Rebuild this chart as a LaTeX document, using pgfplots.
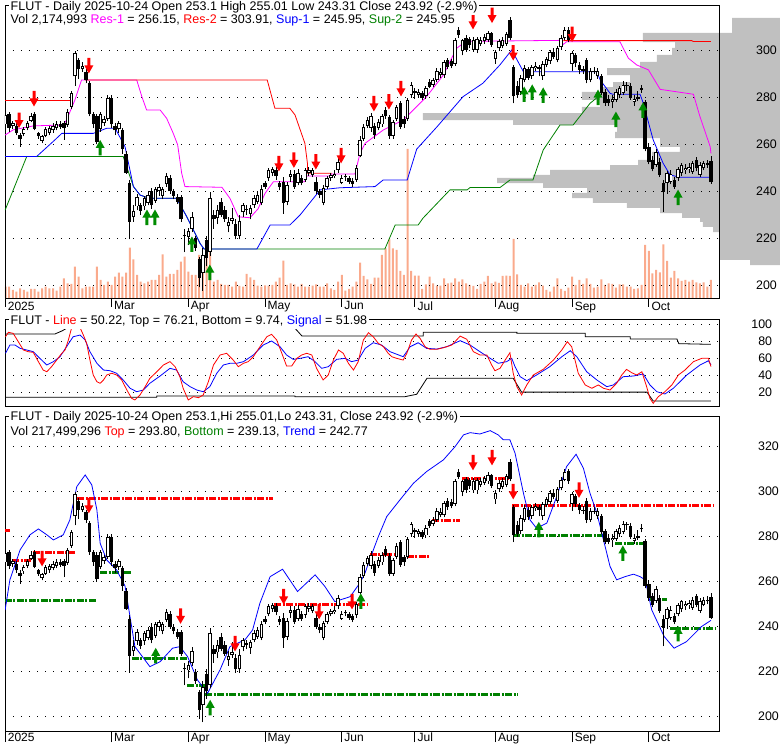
\documentclass[border=0pt]{standalone}
\usepackage{fontspec}
\setmainfont{Liberation Sans}
\usepackage{pgfplots}
\usepackage{pgfplotstable}
\pgfplotsset{compat=1.18}
\definecolor{volc}{RGB}{250,170,140}
\definecolor{profc}{RGB}{192,192,192}
\definecolor{arrgreen}{RGB}{0,140,0}
\definecolor{linegreen}{RGB}{0,128,0}
\definecolor{mag}{RGB}{255,0,255}
\definecolor{rd}{RGB}{255,0,0}
\definecolor{bl}{RGB}{0,0,255}
\pgfdeclareplotmark{dnarrow}{%
 \pgfpathmoveto{\pgfqpoint{-1.5pt}{7.5pt}}\pgfpathlineto{\pgfqpoint{1.5pt}{7.5pt}}%
 \pgfpathlineto{\pgfqpoint{1.5pt}{0pt}}\pgfpathlineto{\pgfqpoint{4.5pt}{0pt}}%
 \pgfpathlineto{\pgfqpoint{0pt}{-8pt}}\pgfpathlineto{\pgfqpoint{-4.5pt}{0pt}}%
 \pgfpathlineto{\pgfqpoint{-1.5pt}{0pt}}\pgfpathclose\pgfusepathqfill}
\pgfdeclareplotmark{uparrow}{%
 \pgfpathmoveto{\pgfqpoint{-1.5pt}{-7.5pt}}\pgfpathlineto{\pgfqpoint{1.5pt}{-7.5pt}}%
 \pgfpathlineto{\pgfqpoint{1.5pt}{0pt}}\pgfpathlineto{\pgfqpoint{4.5pt}{0pt}}%
 \pgfpathlineto{\pgfqpoint{0pt}{8pt}}\pgfpathlineto{\pgfqpoint{-4.5pt}{0pt}}%
 \pgfpathlineto{\pgfqpoint{-1.5pt}{0pt}}\pgfpathclose\pgfusepathqfill}

\pgfplotstableread{
n o h l c v
0 268.5 273.5 267 272.5 11.3
1 273 274 265.5 267 11.3
2 268 270 266.5 269 8
3 268 269 264 265 6.3
4 264 265 259 262.5 9.7
5 264.5 267.5 263.5 266.5 8
6 267 270 266 269 6.3
7 270 273.5 269.5 272 9
8 273 274 266 266.5 9
9 265 265.5 262.5 263.5 6.3
10 261.5 264 260.5 263.5 9.7
11 263.5 267.5 263 266.5 11.3
12 265 268 264 267 9.7
13 266 269 265 268 9.7
14 267 270 266 268.5 7.3
15 268.5 270 266.5 267.5 11.3
16 269 270 262 267 19.7
17 268.3 275 267.5 274 14.7
18 276 283 275 282 14
19 289 300 285 299 31.3
20 296 297 288 292 21.3
21 292 295 291 293.5 9.7
22 291 292 286 287.5 11.3
23 286 287 272 273 11.3
24 273 274 267 268.5 11.3
25 272 273 260 261 31.3
26 266.5 274 265.5 273 18
27 269 272 268 271 13
28 271 281 270 280 16.3
29 280 281 267 268.6 13
30 268 269 264 266 21.3
31 266.5 270 265 269 25.3
32 266 267 256 258 21.3
33 256 257 247.5 248 25.3
34 243.5 245 219.5 227 50.3
35 229 234 227 231.5 38.7
36 233.5 239 232 237.5 23
37 234 235 230 231.5 16.3
38 233.5 238 232 237 14.7
39 235 240 234 238.5 16.3
40 240 241.5 232.5 234 18
41 236 242 235 241 18
42 240 243 238 242 23
43 238 242 236.5 241 43.7
44 243 248 242 246.5 21.3
45 245.5 247 239 240 24
46 240 241 236.5 238 24
47 237.5 239 234.5 235.5 28
48 237.5 238.5 227 228 36.3
49 221.5 224 214 221 41.3
50 220.5 224.5 217 223 26.3
51 224 231 222.5 229 23
52 220 221 214.5 216 23
53 211 212 199 203 43
54 205 216 197.5 213 43
55 219 221 208 211.5 43
56 214 239.5 212.5 237 46.3
57 230 232 224 228 16.3
58 228.5 234 226 232 18
59 235.5 237 229 230 14
60 232 233.5 227 228 13
61 225 229 222.5 227 13
62 227.5 233 226 228.5 11.3
63 226 228 219.5 221 16.3
64 221 230 219.5 227.5 12
65 231 235 229 234 11.3
66 232 234 230 232.5 24
67 230.5 234 228 233 20.7
68 234 238.5 233 237 18
69 235.5 240 234.5 238.5 12.3
70 235 242.5 234 241 11.3
71 243.5 244.5 241 242 12.7
72 245.5 250 244.5 249 12.3
73 248 250.5 246.5 249.5 13
74 249 250.5 245 246.5 16.3
75 243.5 244.5 240.5 242 20.3
76 244 246 230.5 235 37.3
77 235.5 244 234 242.5 13
78 246 249 244 247.5 14.7
79 247.5 249 241 242 13.7
80 243.5 249.5 242.5 248 11.3
81 245.5 247 242.5 243.5 14
82 245 250 244 249 11.3
83 248 250.5 246.5 249 11.3
84 247 250 246 249 12.3
85 244 246 239 240 13.7
86 240 241 237 238.5 11.3
87 235 242.5 234 241.5 11.3
88 242 246.5 241 245.5 14.7
89 245.5 248 244.5 247 9.7
90 246.5 249 245.5 247.5 8
91 249 254 248 252.5 16.3
92 243.5 247 243 245.5 23
93 246 247.5 244.5 246 7.3
94 245.5 246.5 243 244 9
95 244.5 245.5 242 243 11.3
96 245 251 244 250 16.3
97 255 263.5 254.5 262 35.3
98 262.5 268.5 261.5 267.5 22
99 268 271.5 267 270.5 18.7
100 267 273.5 265.5 272 14
101 268 269 262.5 264 20.3
102 267 271 266 269.5 20.3
103 268.5 273 267.5 272 43
104 274.5 276 271 272 49.7
105 271.5 272.5 262.5 263.5 58.7
106 263.5 270.5 262.5 269.5 49.7
107 271 277 270 276 48
108 277.5 278.5 266.5 267.5 27
109 271 272 267 268.5 23
110 271 280 270 279 149
111 281 286.5 280 285.5 27
112 283 284 279.5 282 22.3
113 281 283.5 280 282.5 22.3
114 282 283 279 280 9
115 280.5 285 279.5 284 13.7
116 286.8 288 284 284.6 21.3
117 285.5 288.5 284.5 287.5 14.7
118 287.5 292.5 286.5 291.5 12.3
119 289.5 292.5 288.5 291 12.3
120 289.5 296 288.5 295 19.7
121 296 297 292 293.2 14.7
122 295.5 296.5 292.5 293.5 15.3
123 294.5 305.5 293.5 304.5 19.7
124 308.8 310 305.5 306.7 16.3
125 300 305 298 304.5 18.7
126 305.5 306.5 299.5 300.5 14.7
127 305 306 301 302.5 13
128 300.5 306 299.5 304.5 12
129 300.5 306 299 305 9
130 303 306 302 304.5 14
131 304 307 303 306 16.3
132 304.5 308.5 303.5 307.4 22
133 307.5 308 301.5 302.5 14.7
134 296.5 300.5 294.5 299.5 16.3
135 301 305 300 304 15
136 302 306 301 304.5 22
137 303 308 302 307 22.3
138 313 314.5 304.5 305.5 22
139 293 294 277.5 280.5 59
140 285 287 280 281 23.7
141 282.5 289.5 281 288.3 13
142 287.5 294 286.5 292.5 11.3
143 292 293 287.5 288.5 14.7
144 289 294 288 293 11.3
145 292.5 295 291.5 293.5 13
146 293 294 289 292 15.7
147 289 295.5 287.5 294.5 12.3
148 294 297.5 293 296.5 8
149 295.5 300.5 294.5 299.5 6.3
150 299.5 301 296.5 297.5 11.3
151 296 302 295 301 19.7
152 301.5 306.5 300.5 305.3 9
153 305.3 310 304.5 308.8 7
154 309 310 303.5 304.5 10.3
155 294.5 300 291.5 299 21.3
156 298.2 299 293 294.6 13
157 294 295 290 291.8 18
158 292 293.5 290 291.5 14
159 296 297 286 287.5 19.7
160 287.5 292.5 286.5 291.5 14
161 291.5 293 290 291 10.3
162 289 292.5 288 291.5 11.3
163 289 290 281 282 18.7
164 282.5 283.5 276.5 277.5 13
165 279.5 281 276.5 277.8 14.7
166 278.3 281 275.5 279.5 14
167 279 283.5 278 282.5 10.3
168 281 285 280 284 13.7
169 282 287 281 285.5 13.7
170 285 286.5 283 285.3 11.3
171 284.8 286 279 279.7 11.3
172 278 281 276.5 279.5 9
173 279.5 283 278.5 280.2 9.7
174 283.2 285.5 282 283.9 13
175 278.2 279 257 258 53
176 259 260.5 251.5 252.5 47
177 253.4 255 248.5 249.5 24.7
178 251.2 258 250.5 256.8 28
179 252.6 254 246 247 25.7
180 243.5 245 231.3 239.5 53.7
181 243.4 248.5 239 247.7 37
182 244 249 243 247.5 20.3
183 244.8 246 241 242 27
184 245.5 250.5 244.5 249.4 19.7
185 247.7 252 246.5 251.2 17
186 249 251.5 247.5 250 18
187 249.5 252 248 250.5 16.3
188 248.4 253 247.5 251.9 18
189 253.4 254.5 248.5 249.8 15.7
190 247 252.5 246 251.2 14.7
191 249.8 253 249 251.9 15.7
192 251.2 253.5 250 251.9 11.3
193 253.1 255.01 243.31 243.92 18
}\ohlc

\pgfplotsset{
  nomk/.style={only marks, mark=*, mark size=0pt, mark options={draw=none, fill=none}, forget plot},
}
\newcommand{\candles}{%
\addplot[nomk, error bars/.cd, y dir=plus, y explicit, error mark=none,
  error bar style={draw=black, line width=0.8pt}]
  table[x=n, y=l, y error plus expr={\thisrow{h}-\thisrow{l}}] {\ohlc};
\addplot[nomk, error bars/.cd, y dir=plus, y explicit, error mark=none,
  error bar style={draw=black, line width=3.4pt}]
  table[x=n, y expr={min(\thisrow{o},\thisrow{c})}, y error plus expr={max(abs(\thisrow{c}-\thisrow{o}),0.5)}] {\ohlc};
\addplot[nomk, error bars/.cd, y dir=plus, y explicit, error mark=none,
  error bar style={draw=white, line width=1.5pt}]
  table[x=n, y expr={min(\thisrow{o},\thisrow{c})+0.42}, y error plus expr={(\thisrow{c}>\thisrow{o})*max(abs(\thisrow{c}-\thisrow{o})-0.84,0)}] {\ohlc};
}

\pgfplotsset{
  panel/.style={scale only axis, width=714pt, xmin=-0.137, xmax=195.2, anchor=south west,
    axis line style={line width=0.8pt},
    tick align=outside, ytick style={draw=none}, xtick style={black, line width=0.8pt},
    ymajorgrids, major grid style={black, line width=0.9pt, dash pattern=on 0.9pt off 7.1pt},
    yticklabel pos=right, ytick pos=right,
    yticklabel style={anchor=east, inner sep=0pt, xshift=49pt, font=\fontsize{12.4}{14}\selectfont},
    /pgf/number format/assume math mode=true,
    xticklabel style={anchor=north west, inner sep=0pt, xshift=2.5pt, font=\fontsize{12}{14}\selectfont},
  },
  hidden/.style={scale only axis, width=714pt, xmin=-0.137, xmax=195.2, anchor=south west, hide axis},
  reddash/.style={rd, line width=3pt, dash pattern=on 7pt off 1.5pt on 2pt off 1.5pt, forget plot},
  greendash/.style={linegreen, line width=3pt, dash pattern=on 7pt off 1.5pt on 2pt off 1.5pt, forget plot},
}

\begin{document}
\begin{tikzpicture}[x=1pt,y=1pt]
\path[use as bounding box] (0,0) rectangle (780,745);

% ---------------- volume profile (top panel) ----------------
\begin{axis}[hidden, height=293pt, at={(5pt,447pt)}, ymin=194.45, ymax=319.5, clip=false]
\addplot[fill=profc, draw=none] coordinates {
(211.9,314.0) (198.8,314.0) (198.8,307.6) (174.4,307.6) (174.4,303.7) (183.2,303.7) (183.2,301.2)
(182.4,301.2) (182.4,298.2) (178.2,298.2) (178.2,295.2) (173.6,295.2) (173.6,292.6) (164.6,292.6)
(164.6,289.6) (170.9,289.6) (170.9,286.6) (166.2,286.6) (166.2,284.5) (162.7,284.5) (162.7,282.4)
(157.7,282.4) (157.7,279.0) (162.7,279.0) (162.7,276.0) (157.7,276.0) (157.7,273.4) (114.2,273.4)
(114.2,270.4) (138.9,270.4) (138.9,268.3) (167.3,268.3) (167.3,265.3) (166.8,265.3) (166.8,262.7)
(179.1,262.7) (179.1,258.9) (184.5,258.9) (184.5,256.8) (176.9,256.8) (176.9,253.4) (173.1,253.4)
(173.1,251.2) (165.4,251.2) (165.4,249.1) (149.0,249.1) (149.0,247.0) (144.3,247.0) (144.3,245.7)
(134.5,245.7) (134.5,243.5) (147.1,243.5) (147.1,241.4) (159.1,241.4) (159.1,239.3) (155.0,239.3)
(155.0,237.1) (160.7,237.1) (160.7,235.0) (170.0,235.0) (170.0,232.9) (179.1,232.9) (179.1,230.7)
(185.1,230.7) (185.1,228.6) (190.0,228.6) (190.0,226.9) (190.8,226.9) (190.8,224.8) (193.6,224.8)
(193.6,222.6) (195.5,222.6) (195.5,210.7) (203.7,210.7) (203.7,208.5) (211.9,208.5)} -- cycle;
\end{axis}

% ---------------- volume bars ----------------
\begin{axis}[hidden, height=293pt, at={(5pt,447pt)}, ymin=0, ymax=293]
\addplot[ybar, bar width=2pt, fill=volc, draw=none] table[x=n, y=v] {\ohlc};
\end{axis}

% ---------------- top price panel ----------------
\begin{axis}[panel, height=293pt, at={(5pt,447pt)}, ymin=194.45, ymax=319.5,
  ytick={200,220,240,260,280,300}, yticklabels={200,220,240,260,280,300},
  xtick pos=bottom, major tick length=9pt, xticklabel style={yshift=5.5pt},
  xtick={-0.1,29,50,71,92,112,134,155,176}, xticklabels={2025,Mar,Apr,May,Jun,Jul,Aug,Sep,Oct}]
% Sup-2 green
\addplot[linegreen, line width=0.8pt] coordinates {(-0.1,232) (5.8,254.8) (32.2,254.8) (35.0,242) (36.8,238.4) (38.6,237.4) (39.0,237) (46.8,237) (49.6,229.1) (53.2,217.8) (54.3,215.4) (103.8,215.4) (106.6,225.6) (112.9,225.6) (114.2,228.5) (121.6,240.6) (126.3,240.6) (127.1,241.6) (135.3,241.6) (138.0,244.8) (144.3,244.8) (147.1,257.6) (151.7,268.3) (155.3,268.3) (159.9,277.5) (162.7,281.1)};
% Sup-1 blue
\addplot[bl, line width=0.8pt] coordinates {(-0.1,254.8) (8.5,254.8) (13.5,261.9) (15.4,264.7) (24.0,264.7) (27.7,266.9) (30.0,266.9) (32.7,259) (35.0,242) (36.8,238.4) (38.6,237.4) (39.0,237) (46.8,237) (49.6,229.1) (53.2,217.8) (54.3,215.4) (68.8,215.4) (72.4,225.6) (77.8,225.6) (80.6,229.9) (86.1,240.6) (91.5,241.5) (101.1,242) (103.3,244.8) (109.9,244.8) (112.5,258) (118.1,267.6) (125.2,280.4) (130.6,286.1) (135.3,294) (138.5,300.3) (141.7,291) (161.8,291) (162.7,287.5) (165.4,281.8) (166.2,281.4) (173.6,281.4) (174.4,278) (177.2,261.9) (179.9,252) (181.8,247) (184.5,245.95) (193,245.95)};
% Res-1 magenta
\addplot[mag, line width=0.8pt] coordinates {(-0.1,264.0) (2.1,266.2) (7.6,267.9) (15.8,268.3) (16.7,270.4) (19.0,279) (20.8,287.5) (35.9,287.5) (37.3,280.4) (38.6,274.7) (42.3,274.7) (44.1,271.1) (45.9,264.7) (47.1,259.8) (48.2,247.7) (49.1,242) (59.2,241.7) (61.4,237) (63.7,229.1) (66.9,228.7) (69.1,232.5) (71.0,239.1) (73.3,244.1) (81.9,244.1) (82.2,246.5) (88.8,246.5) (89.2,247.4) (95.6,247.4) (97.0,256.2) (98.4,260.5) (103.4,266.2) (108.8,270.4) (115.2,280.4) (119.8,289.6) (123.4,301) (125.3,303.2) (127.1,304) (151.7,304.4) (152.6,302.7) (153.5,303.8) (168.1,303.8) (170.4,296.8) (172.7,293.9) (175.9,291.8) (179.1,283.5) (188.2,281.4) (190.0,271.8) (192.8,259) (193,256.15)};
% Res-2 red
\addplot[rd, line width=0.8pt] coordinates {(-0.1,278.7) (17.6,278.7)};
\addplot[rd, line width=0.8pt] coordinates {(21.8,287.5) (71.6,287.5) (73.7,275.4) (77.8,275.4) (79.2,272.6) (81.9,260.5) (82.6,252) (82.6,247.7) (89.2,247.7)};
\addplot[rd, line width=0.8pt] coordinates {(152.6,304.3) (187.7,304.3) (188.2,303.91) (193,303.91)};
\candles
\addplot[only marks, mark=dnarrow, color=rd] coordinates {(3.7,270.4) (7.8,279.6) (22.8,293.7) (74.8,251.9) (78.9,253.4) (84.9,252.7) (91.8,255.3) (100.8,277.5) (104.9,278.3) (108.2,283.9) (127.9,312.5) (133.1,315.2) (138.9,299.2) (155,307.1)};
\addplot[only marks, mark=uparrow, color=arrgreen] coordinates {(25.9,258.5) (38.7,228.8) (40.9,228.8) (51,217.3) (55.9,205.3) (141.9,281.3) (144.1,282.2) (147.1,280.9) (162.1,280) (167,270.6) (174.4,274.5) (184,237.3)};
\end{axis}

% ---------------- oscillator panel ----------------
\begin{axis}[panel, height=87pt, at={(5pt,339pt)}, ymin=3.96, ymax=105.9,
  ytick={20,40,60,80,100}, yticklabels={20,40,60,80,100}, xtick=\empty]
\addplot[black, line width=0.8pt] coordinates {(-0.2,88.3) (13.5,88.3) (15.5,92) (17.5,97) (78.5,97) (79.2,95) (81.1,86) (114.3,86) (114.3,90.3) (139.9,90.3) (139.9,89.1) (158.6,89.1) (158.6,85.1) (170.9,85.1) (170.9,82.4) (183.7,82.4) (184.2,77) (193,76.21)};
\addplot[black, line width=0.8pt] coordinates {(-0.2,14.2) (41.4,14.2) (41.4,15.7) (79.2,15.7) (79.2,14.9) (109.3,14.9) (112.5,17.7) (115.3,36.4) (138.9,36.4) (141.2,20.2) (175.5,20.2) (177.2,9.74) (193,9.74)};
\addplot[bl, line width=0.8pt] coordinates {(0,65.7) (1.2,75.4) (2.6,75.4) (4.0,71.5) (5.8,69.6) (7.6,67.6) (9.4,59.8) (11.3,52) (13.1,55.9) (14.9,61.7) (16.7,73.4) (18.5,85.1) (20.4,87.1) (21.8,81.3) (23.1,67.6) (25.0,54) (26.8,46.1) (28.6,45.3) (30.4,42.3) (32.2,34.4) (34.1,24.7) (35.9,20.7) (37.7,22.7) (39.5,30.6) (42.3,39.1) (45.0,48.1) (46.8,46.1) (48.6,32.4) (50.5,26.6) (52.3,22.7) (54.1,20.7) (55.9,26.6) (57.8,42.3) (59.6,52) (61.4,54) (63.3,54) (65.1,55.9) (67.8,63.7) (70.5,75.4) (72.8,80.1) (75.1,73.4) (76.9,63.7) (78.7,58.6) (80.6,59.8) (82.8,61.7) (84.7,55.9) (86.5,48.1) (88.3,50) (90.6,58.6) (92.9,59.8) (94.7,55.9) (96.5,57.8) (98.4,71.5) (100.6,78.1) (102.9,75.4) (105.2,67.6) (108.8,61.7) (110.7,73.4) (112.9,78.1) (115.2,71.5) (118.0,70.7) (120.7,73.4) (124.4,80.5) (127.1,75.4) (129.8,67.6) (132.6,59.8) (134.8,54) (137.1,55.9) (138.5,59.8) (139.4,50) (140.8,38.3) (142.6,33.6) (145.3,40.3) (148.9,50) (152.2,61.7) (154.5,68.7) (156.3,61.7) (159.0,44.1) (161.8,34.4) (164.5,26.6) (166.3,28.6) (169.0,38.3) (171.8,39.1) (174.5,41.5) (176.3,28.6) (178.2,20.7) (180.4,18) (182.7,24.7) (186.4,40.3) (190.0,52) (192.3,57) (193,52)};
\addplot[rd, line width=0.8pt] coordinates {(0,85.1) (0.8,90.3) (2.1,89.1) (3.5,79.3) (4.9,69.6) (6.2,67.6) (7.6,66.8) (9.0,55.9) (10.3,46.1) (11.3,44.1) (12.6,50) (14.0,57.8) (15.4,65.7) (16.3,69.6) (17.2,81.3) (18.1,95.7) (19,100) (20,100) (20.4,95.7) (21.3,87.1) (22.2,77.4) (23.1,57.8) (24.0,40.3) (25.0,32.4) (25.9,30.6) (26.8,34.4) (27.7,40.3) (29.1,42.3) (30.4,40.3) (31.8,34.4) (33.2,22.7) (34.5,13) (35.4,11) (36.8,16.9) (38.2,26.6) (39.5,36.4) (41.4,44.1) (43.2,52) (45.0,55.9) (46.4,50) (47.7,38.3) (48.6,24.7) (50.0,11) (51.4,14.9) (52.8,13.7) (54.1,16.9) (55.5,32.4) (56.9,52) (58.7,63.7) (60.5,65.7) (62.3,57.8) (63.7,50) (65.1,54) (66.4,55.9) (67.8,61.7) (69.6,73.4) (71.5,85.1) (72.8,87.9) (74.2,81.3) (75.6,65.7) (76.9,50.8) (78.3,50.8) (79.7,59.8) (81.0,63.7) (82.4,65.7) (83.8,63.7) (85.1,48.1) (86.9,34.4) (88.3,40.3) (89.7,57.8) (91.1,69.6) (92.4,65.7) (93.8,54) (95.2,46.1) (96.5,55.9) (97.9,81.3) (99.3,89.8) (100.6,85.1) (102.0,77.4) (103.4,73.4) (104.7,65.7) (105.7,61.7) (107.0,59.8) (108.8,57.8) (109.8,65.7) (111.1,81.3) (112.3,88.3) (113.4,83.3) (114.8,73.4) (116.1,70.4) (118.0,70.4) (119.8,72.2) (122.1,75.4) (124.4,85.9) (126.2,82.1) (128.0,67.6) (129.8,63.7) (131.7,63.7) (133.0,52) (133.9,45.3) (135.3,48.1) (136.7,57.8) (138.0,66.4) (138.9,42.3) (139.9,26.6) (141.2,16.9) (142.6,28.6) (144.4,40.3) (147.1,46.9) (149.9,57.8) (152.2,69.6) (153.7,79.3) (154.9,73.4) (156.7,42.3) (158.6,28.6) (160.4,24.7) (162.2,28.6) (163.6,24.7) (165.4,22.7) (167.2,30.6) (168.6,40.3) (169.9,46.9) (171.3,43) (172.7,40.3) (174.1,44.1) (175.4,26.6) (176.3,13) (177.2,7.1) (178.6,14.9) (180.4,20.7) (182.3,28.6) (184.1,40.3) (185.9,46.1) (188.2,55.9) (190.5,59.8) (192.3,59.8) (193,50.2)};
\end{axis}

% ---------------- bottom price panel ----------------
\begin{axis}[panel, height=315pt, at={(5pt,14pt)}, ymin=193.6, ymax=333.6,
  ytick={200,220,240,260,280,300,320}, yticklabels={200,220,240,260,280,300,320},
  xtick pos=bottom, major tick length=11pt, xticklabel style={yshift=9pt},
  xtick={-0.1,29,50,71,92,112,134,155,176}, xticklabels={2025,Mar,Apr,May,Jun,Jul,Aug,Sep,Oct}]
\addplot[reddash] coordinates {(-0.2,282.5) (1.2,282.5)};
\addplot[reddash] coordinates {(1.8,269.2) (7.3,269.2)};
\addplot[reddash] coordinates {(7.5,273.1) (19.0,273.1)};
\addplot[reddash] coordinates {(19.6,297.1) (73.2,297.1)};
\addplot[reddash] coordinates {(73.5,249.6) (99.2,249.6)};
\addplot[reddash] coordinates {(99.7,272.2) (107.1,272.2)};
\addplot[reddash] coordinates {(109.8,271.1) (116.1,271.1)};
\addplot[reddash] coordinates {(116.7,287) (124.3,287)};
\addplot[reddash] coordinates {(124.9,305.6) (138.0,305.6)};
\addplot[reddash] coordinates {(138.6,293.8) (193.6,293.8)};
\addplot[greendash] coordinates {(-0.2,251.4) (25.0,251.4)};
\addplot[greendash] coordinates {(25.9,264.1) (34.6,264.1)};
\addplot[greendash] coordinates {(34.6,226) (49.7,226)};
\addplot[greendash] coordinates {(49.7,213.6) (54.6,213.6)};
\addplot[greendash] coordinates {(54.6,210) (140.0,210)};
\addplot[greendash] coordinates {(138.9,280.3) (163.5,280.3)};
\addplot[greendash] coordinates {(166.8,277) (175.0,277)};
\addplot[greendash] coordinates {(176.3,251.9) (181.0,251.9)};
\addplot[greendash] coordinates {(181.8,239.13) (194.1,239.13)};
\addplot[bl, line width=0.8pt] coordinates {(-0.1,247.4) (1.2,260.8) (4.0,274.1) (6.7,280.8) (9.0,283.4) (11.3,280.8) (13.1,278.5) (15.8,280.8) (17.6,287.4) (19.5,302.2) (21.8,307.4) (23.6,303) (25.0,291.9) (25.9,277) (27.7,269.6) (30.4,265.2) (32.7,258) (35.4,231.1) (39.5,222.2) (42.3,224.4) (45.7,230.4) (47.7,231.1) (49.8,226.7) (52.5,216.3) (55.3,210.4) (58.7,220.8) (61.4,231.1) (65.5,234.1) (67.6,238.5) (69.6,250.4) (72.4,262.2) (75.8,265.5) (79.9,255.6) (84.7,263) (87.4,257.8) (90.1,251.1) (94.3,253.3) (97.0,259.5) (98.4,264) (99.7,270) (102.0,280) (104.3,288.9) (107.9,296.3) (111.6,303.7) (115.2,308.9) (119.8,314.1) (123.0,320) (125.3,325.2) (127.1,326.2) (129.8,325.6) (132.6,327.1) (134.8,325.2) (136.2,323) (138.0,323) (139.4,317.1) (141.7,299.3) (143.5,287.4) (145.3,283.7) (148.1,286) (150.8,297.8) (153.5,311.1) (156.1,316.6) (158.1,310.4) (159.9,299.3) (161.8,290.4) (163.6,278.5) (165.4,266.7) (167.2,260.8) (169.5,262.2) (171.8,263.3) (173.6,262.2) (175.0,260.8) (176.8,247.4) (180.2,235.6) (182.9,230.4) (186.3,233.3) (190.4,240) (193,242.77)};
\candles
\addplot[only marks, mark=dnarrow, color=rd] coordinates {(10,270.3) (22.8,293.9) (47.9,244.8) (62.8,232.5) (76.1,253.4) (85.8,246.8) (94.8,251.2) (127.9,313) (133.1,315.2) (138.9,300.1) (156.9,300.8)};
\addplot[only marks, mark=uparrow, color=arrgreen] coordinates {(41.1,227) (56,203.9) (97.2,251.2) (145.9,283) (168.9,272.5) (184,236.8)};
\end{axis}

% ---------------- titles ----------------
\begin{scope}[every node/.style={anchor=base west, fill=white, inner xsep=1.5pt, inner ysep=1.5pt, font=\fontsize{12.5}{14}\selectfont}]
\node at (9,734) {FLUT - Daily 2025-10-24 Open 253.1 High 255.01 Low 243.31 Close 243.92 (-2.9\%)};
\node at (9,721.7) {Vol 2,174,993\ \textcolor{mag}{Res-1} = 256.15, \textcolor{rd}{Res-2} = 303.91, \textcolor{bl}{Sup-1} = 245.95, \textcolor{linegreen}{Sup-2} = 245.95};
\node at (9,420) {FLUT - \textcolor{rd}{Line} = 50.22, Top = 76.21, Bottom = 9.74, \textcolor{bl}{Signal} = 51.98};
\node at (9,324) {FLUT - Daily 2025-10-24 Open 253.1,Hi 255.01,Lo 243.31, Close 243.92 (-2.9\%)};
\node at (9,309.3) {Vol 217,499,296 \textcolor{rd}{Top} = 293.80, \textcolor{linegreen}{Bottom} = 239.13, \textcolor{bl}{Trend} = 242.77};
\end{scope}
\end{tikzpicture}
\end{document}
